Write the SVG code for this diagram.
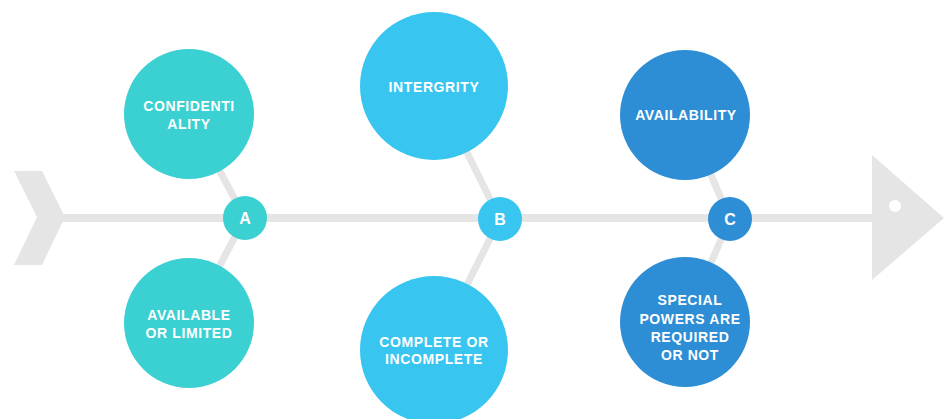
<svg xmlns="http://www.w3.org/2000/svg" width="944" height="419" viewBox="0 0 944 419">
  <style>
    .bone { stroke: #e5e5e5; stroke-width: 8; fill: none; }
    .rib { stroke: #e5e5e5; stroke-width: 7; fill: none; }
    .grey { fill: #e5e5e5; }
    .a { fill: #3bd0d1; }
    .b { fill: #38c5ef; }
    .c { fill: #2d8ed5; }
    .lbl { font-family: "Liberation Sans", Arial, sans-serif; font-weight: 700; font-size: 14px; letter-spacing: 0.6px; fill: #ffffff; text-anchor: middle; }
    .key { font-family: "Liberation Sans", Arial, sans-serif; font-weight: 700; font-size: 16px; fill: #ffffff; text-anchor: middle; }
  </style>

  <rect width="944" height="419" fill="#ffffff"/>

  <!-- connectors: spine, ribs, tail and head -->
  <g id="connectors">
    <line class="bone" x1="60" y1="218" x2="876" y2="218"/>
    <line class="rib" x1="245" y1="218" x2="189" y2="114"/>
    <line class="rib" x1="245" y1="218" x2="189" y2="323"/>
    <line class="rib" x1="500" y1="219" x2="434" y2="86"/>
    <line class="rib" x1="500" y1="219" x2="434" y2="350"/>
    <line class="rib" x1="730" y1="219" x2="685" y2="115"/>
    <line class="rib" x1="730" y1="219" x2="685" y2="322"/>
    <polygon class="grey" points="14,171 42,171 65,217 42,265 14,265 37,217"/>
    <polygon class="grey" points="872,155 944,218 872,280"/>
    <circle cx="895" cy="206" r="6" fill="#ffffff"/>
  </g>

  <!-- group A -->
  <g id="node-confidentiality">
    <circle class="a" cx="189" cy="114" r="65"/>
    <text class="lbl" x="189" y="111">CONFIDENTI</text>
    <text class="lbl" x="189" y="128.5">ALITY</text>
  </g>
  <g id="node-available">
    <circle class="a" cx="189" cy="323" r="65"/>
    <text class="lbl" x="189" y="319.5">AVAILABLE</text>
    <text class="lbl" x="189" y="337.5">OR LIMITED</text>
  </g>
  <g id="node-a">
    <circle class="a" cx="245" cy="218" r="22"/>
    <text class="key" x="245" y="224">A</text>
  </g>

  <!-- group B -->
  <g id="node-integrity">
    <circle class="b" cx="434" cy="86" r="74"/>
    <text class="lbl" x="434" y="92">INTERGRITY</text>
  </g>
  <g id="node-complete">
    <circle class="b" cx="434" cy="350" r="74"/>
    <text class="lbl" x="434" y="347">COMPLETE OR</text>
    <text class="lbl" x="434" y="363.5">INCOMPLETE</text>
  </g>
  <g id="node-b">
    <circle class="b" cx="500" cy="219" r="22"/>
    <text class="key" x="500" y="225">B</text>
  </g>

  <!-- group C -->
  <g id="node-availability">
    <circle class="c" cx="685" cy="115" r="65"/>
    <text class="lbl" x="686" y="119.5">AVAILABILITY</text>
  </g>
  <g id="node-special">
    <circle class="c" cx="685" cy="322" r="65"/>
    <text class="lbl" x="690" y="305">SPECIAL</text>
    <text class="lbl" x="690" y="323.5">POWERS ARE</text>
    <text class="lbl" x="690" y="342">REQUIRED</text>
    <text class="lbl" x="690" y="359.5">OR NOT</text>
  </g>
  <g id="node-c">
    <circle class="c" cx="730" cy="219" r="22"/>
    <text class="key" x="730" y="225">C</text>
  </g>
</svg>
